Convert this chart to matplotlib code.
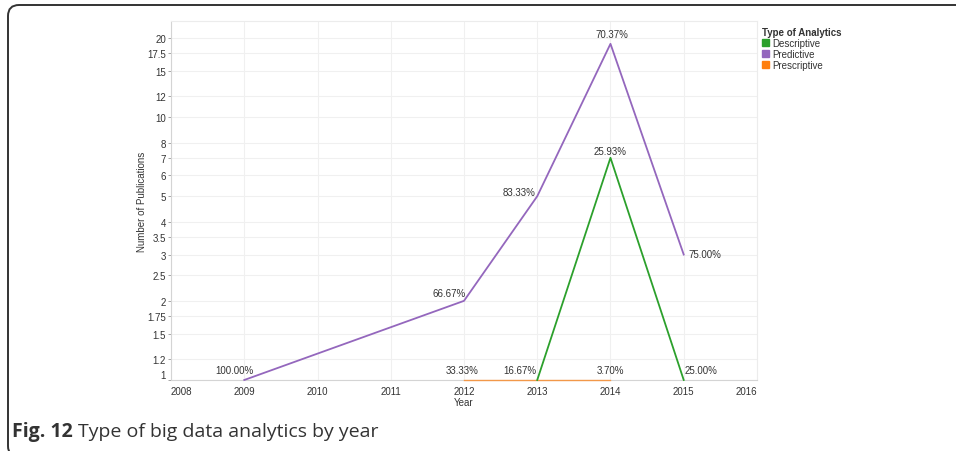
import matplotlib.pyplot as plt
from matplotlib.patches import Patch, FancyBboxPatch
from matplotlib.ticker import FixedLocator, NullLocator

plt.rcParams["font.family"] = ["Liberation Sans", "DejaVu Sans"]

# Publications per analytics type and year
desc_years = [2013, 2014, 2015]
desc_counts = [1, 7, 1]
pred_years = [2009, 2012, 2013, 2014, 2015]
pred_counts = [1, 2, 5, 19, 3]
presc_years = [2012, 2014]
presc_counts = [1, 1]

year_ticks = [2008, 2009, 2010, 2011, 2012, 2013, 2014, 2015, 2016]
y_ticks = [1, 1.2, 1.5, 1.75, 2, 2.5, 3, 3.5, 4, 5, 6, 7, 8, 10, 12, 15, 17.5, 20]
y_tick_labels = ["1", "1.2", "1.5", "1.75", "2", "2.5", "3", "3.5", "4", "5",
                 "6", "7", "8", "10", "12", "15", "17.5", "20"]

GREEN = "#2ca02c"
PURPLE = "#9467bd"
ORANGE = "#ff7f0e"

# yearly totals for the percentage labels
totals = {}
for yrs, cnts in [(desc_years, desc_counts), (pred_years, pred_counts),
                  (presc_years, presc_counts)]:
    for y, c in zip(yrs, cnts):
        totals[y] = totals.get(y, 0) + c

fig = plt.figure(figsize=(9.56, 4.52), dpi=100)
ax = fig.add_axes([0.1789, 0.1571, 0.6129, 0.7942])

ax.plot(presc_years, presc_counts, color=ORANGE, lw=1.0, alpha=0.7, zorder=3,
        clip_on=False)
ax.plot(desc_years, desc_counts, color=GREEN, lw=1.3, zorder=4, clip_on=False)
ax.plot(pred_years, pred_counts, color=PURPLE, lw=1.3, zorder=4, clip_on=False)

ax.set_yscale("log")
ax.set_xlim(2008, 2016)
ax.set_ylim(1, 23.2)
ax.yaxis.set_major_locator(FixedLocator(y_ticks))
ax.yaxis.set_minor_locator(NullLocator())
ax.set_yticklabels(y_tick_labels)
ax.set_xticks(year_ticks)
ax.set_xticklabels([str(y) for y in year_ticks])

ax.tick_params(axis="both", labelsize=7, colors="#999999", labelcolor="#333333",
               length=2.5, width=0.6)
ax.tick_params(axis="y", pad=1)
ax.tick_params(axis="x", length=0, pad=4)
xl = ax.get_xticklabels()
xl[0].set_ha("left")
xl[-1].set_ha("right")
ax.get_yticklabels()[0].set_va("bottom")

ax.grid(True, color="#f0f0f0", lw=0.8)
ax.set_axisbelow(True)
for side in ["top", "right"]:
    ax.spines[side].set_color("#ececec")
    ax.spines[side].set_linewidth(0.8)
for side in ["left", "bottom"]:
    ax.spines[side].set_color("#d4d4d4")
    ax.spines[side].set_linewidth(0.8)

ax.set_xlabel("Year", fontsize=7, color="#333333", labelpad=1)
ax.set_ylabel("Number of Publications", fontsize=7, color="#333333", labelpad=0)


def label(yrs, cnts, offsets):
    for y, c, (dx, dy, ha) in zip(yrs, cnts, offsets):
        pct = 100.0 * c / totals[y]
        ax.annotate(f"{pct:.2f}%", (y, c), xytext=(dx, dy),
                    textcoords="offset pixels", ha=ha, va="center",
                    fontsize=7, color="#333333", zorder=6)


label(pred_years, pred_counts,
      [(-10, 10, "center"), (2, 8, "right"), (-2, 4, "right"),
       (1, 10, "center"), (5, 1, "left")])
label(desc_years, desc_counts,
      [(-1, 10, "right"), (0, 7, "center"), (1, 10, "left")])
label(presc_years, presc_counts,
      [(-2, 10, "center"), (0, 10, "center")])

handles = [Patch(color=GREEN, label="Descriptive"),
           Patch(color=PURPLE, label="Predictive"),
           Patch(color=ORANGE, label="Prescriptive")]
leg = fig.legend(handles=handles, title="Type of Analytics",
                 loc="upper left", bbox_to_anchor=(755 / 956, 1 - 21 / 452),
                 frameon=False, fontsize=7, title_fontsize=7,
                 handlelength=0.75, handleheight=0.75, handletextpad=0.35,
                 labelspacing=0.1, borderpad=0.2, alignment="left")
leg.get_title().set_fontweight("bold")
leg.get_title().set_color("#333333")
for t in leg.get_texts():
    t.set_color("#333333")

# rounded frame open on the right
frame = FancyBboxPatch((8, -6), 1100, 452, boxstyle="round,pad=0,rounding_size=11",
                       transform=None, fill=False, ec="#333333", lw=1.4)
fig.patches.append(frame)

cap_y = 1 - 432 / 452
fig_txt = fig.text(12 / 956, cap_y, "Fig. 12", fontsize=14, fontweight="bold",
                   family="Open Sans", color="#333333", va="center")
fig.canvas.draw()
x1 = fig_txt.get_window_extent().x1
fig.text((x1 + 5) / 956, cap_y, "Type of big data analytics by year",
         fontsize=14, family="Open Sans", color="#333333", va="center")

fig.savefig("out.png", dpi=100)
